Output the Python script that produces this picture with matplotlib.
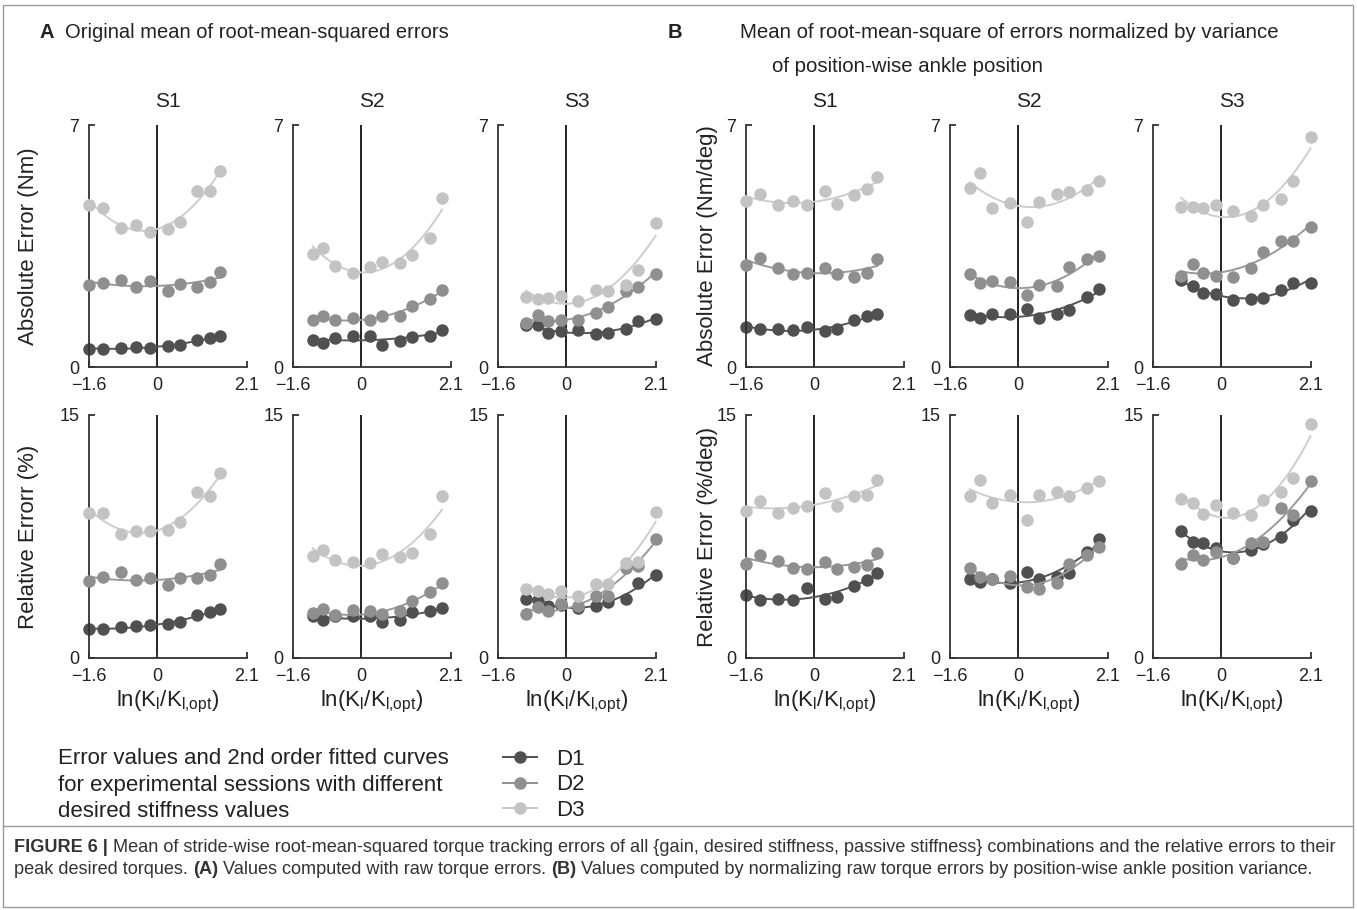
import numpy as np
import matplotlib.pyplot as plt
from matplotlib.lines import Line2D
from matplotlib.patches import Rectangle

# figure size in pixels (dpi 100)
W, H = 1357, 910

# --- data ---
# x positions of the ten sessions per subject, ln(K/K_opt)
x_s1 = [-1.60, -1.27, -0.84, -0.49, -0.16, 0.25, 0.54, 0.94, 1.23, 1.47]
x_s2 = [-1.14, -0.90, -0.61, -0.20, 0.20, 0.49, 0.90, 1.19, 1.61, 1.89]
x_s3 = [-0.94, -0.67, -0.44, -0.13, 0.27, 0.70, 0.97, 1.39, 1.68, 2.09]

# (A) absolute error (Nm), rows are D1, D2, D3
abs_a_s1 = [[0.53, 0.53, 0.55, 0.58, 0.55, 0.60, 0.63, 0.79, 0.84, 0.89],
            [2.36, 2.43, 2.51, 2.32, 2.48, 2.20, 2.41, 2.32, 2.45, 2.76],
            [4.70, 4.61, 4.03, 4.10, 3.90, 3.98, 4.20, 5.10, 5.09, 5.68]]
abs_a_s2 = [[0.79, 0.70, 0.84, 0.90, 0.89, 0.65, 0.75, 0.87, 0.90, 1.08],
            [1.37, 1.48, 1.35, 1.43, 1.37, 1.48, 1.48, 1.76, 1.98, 2.22],
            [3.28, 3.45, 2.93, 2.73, 2.88, 3.04, 3.02, 3.23, 3.72, 4.90]]
abs_a_s3 = [[1.21, 1.21, 0.98, 1.04, 1.06, 0.95, 0.98, 1.11, 1.33, 1.38],
            [1.28, 1.50, 1.33, 1.35, 1.35, 1.57, 1.74, 2.19, 2.32, 2.70],
            [2.03, 1.98, 2.00, 2.06, 1.91, 2.24, 2.19, 2.38, 2.80, 4.17]]

# (A) relative error (%)
rel_a_s1 = [[1.79, 1.79, 1.89, 1.99, 2.01, 2.12, 2.22, 2.63, 2.81, 3.02],
            [4.73, 4.97, 5.28, 4.79, 4.93, 4.52, 4.93, 4.93, 5.14, 5.79],
            [8.94, 8.94, 7.66, 7.83, 7.87, 7.91, 8.38, 10.23, 9.97, 11.40]]
rel_a_s2 = [[2.61, 2.32, 2.61, 2.61, 2.61, 2.20, 2.36, 2.81, 2.88, 3.08],
            [2.77, 3.02, 2.67, 2.94, 2.88, 2.73, 2.88, 3.53, 4.05, 4.66],
            [6.27, 6.68, 6.06, 5.92, 5.86, 6.43, 6.23, 6.47, 7.64, 9.97]]
rel_a_s3 = [[3.64, 3.60, 3.23, 3.29, 3.08, 3.23, 3.43, 3.66, 4.62, 5.14],
            [2.73, 3.14, 2.88, 3.39, 3.18, 3.80, 3.84, 5.55, 5.65, 7.34],
            [4.25, 4.11, 3.94, 4.11, 3.84, 4.58, 4.58, 5.86, 5.90, 9.04]]

# (B) absolute error normalized (Nm/deg)
abs_b_s1 = [[1.16, 1.09, 1.09, 1.06, 1.16, 1.04, 1.09, 1.35, 1.47, 1.54],
            [2.96, 3.14, 2.85, 2.68, 2.73, 2.87, 2.70, 2.61, 2.73, 3.11],
            [4.81, 5.00, 4.70, 4.81, 4.68, 5.09, 4.71, 4.97, 5.14, 5.50]]
abs_b_s2 = [[1.50, 1.43, 1.54, 1.52, 1.69, 1.43, 1.52, 1.64, 2.03, 2.27],
            [2.70, 2.44, 2.49, 2.46, 2.08, 2.36, 2.35, 2.88, 3.11, 3.21],
            [5.19, 5.62, 4.61, 4.73, 4.20, 4.78, 4.99, 5.05, 5.12, 5.39]]
abs_b_s3 = [[2.53, 2.34, 2.14, 2.10, 1.95, 1.98, 2.00, 2.22, 2.43, 2.43],
            [2.64, 2.97, 2.73, 2.64, 2.61, 2.85, 3.33, 3.64, 3.64, 4.05],
            [4.63, 4.63, 4.61, 4.70, 4.51, 4.36, 4.68, 4.87, 5.38, 6.66]]

# (B) relative error normalized (%/deg)
rel_b_s1 = [[3.86, 3.55, 3.66, 3.55, 4.31, 3.66, 3.76, 4.42, 4.83, 5.24],
            [5.81, 6.37, 5.96, 5.55, 5.49, 5.90, 5.49, 5.61, 5.71, 6.47],
            [9.10, 9.72, 8.94, 9.25, 9.41, 10.17, 9.39, 10.01, 10.07, 10.99]]
rel_b_s2 = [[4.89, 4.68, 4.89, 4.66, 5.30, 4.89, 5.03, 5.24, 6.57, 7.36],
            [5.55, 4.99, 4.89, 5.07, 4.38, 4.27, 4.62, 5.81, 6.33, 6.84],
            [9.97, 10.99, 9.55, 10.07, 8.53, 10.07, 10.27, 10.01, 10.48, 10.95]]
rel_b_s3 = [[7.81, 7.19, 7.09, 6.78, 6.16, 6.68, 7.05, 7.44, 8.53, 9.08],
            [5.81, 6.33, 6.06, 6.57, 6.16, 7.09, 7.19, 9.25, 8.83, 10.95],
            [9.80, 9.55, 8.90, 9.45, 8.98, 8.83, 9.76, 10.27, 11.10, 14.42]]

series_names = ["D1", "D2", "D3"]
subjects = ["S1", "S2", "S3"]

colors = ["#505050", "#8f8f8f", "#c3c3c3"]
line_colors = ["#555555", "#999999", "#cdcdcd"]
ink = "#222222"
MS = 9.0

plt.rcParams["font.family"] = ["Liberation Sans", "DejaVu Sans"]
plt.rcParams["mathtext.fontset"] = "custom"
plt.rcParams["mathtext.rm"] = "Liberation Sans"


def ax_rect(x0, x1, ytop, ybot):
    # pixel box -> figure fraction
    return [x0 / W, 1 - ybot / H, (x1 - x0) / W, (ybot - ytop) / H]


def draw_panel(ax, xs, rows, ymax):
    xs = np.asarray(xs)
    ax.plot([0, 0], [0, ymax], color="#111111", lw=1.3, zorder=1)
    for i, ys in enumerate(rows):
        ys = np.asarray(ys)
        coef = np.polyfit(xs, ys, 2)
        xf = np.linspace(xs.min(), xs.max(), 100)
        ax.plot(xf, np.polyval(coef, xf), color=line_colors[i], lw=1.4,
                zorder=2 + i, clip_on=False)
        ax.plot(xs, ys, "o", ms=MS, color=colors[i], mec="none",
                zorder=2 + i, clip_on=False)
    ax.set_xlim(-1.6, 2.1)
    ax.set_ylim(0, ymax)
    ax.set_xticks([-1.6, 0, 2.1])
    ax.set_xticklabels(["\u22121.6", "0", "2.1"])
    ax.set_yticks([0, ymax])
    ax.set_yticklabels(["0", str(ymax)])
    for side in ["top", "right"]:
        ax.spines[side].set_visible(False)
    for side in ["left", "bottom"]:
        ax.spines[side].set_color("#333333")
        ax.spines[side].set_linewidth(1.3)
    ax.tick_params(direction="in", length=4, width=1.3, colors="#333333",
                   labelsize=13, labelcolor=ink, pad=7)
    ax.patch.set_alpha(0)


fig = plt.figure(figsize=(W / 100, H / 100), dpi=100)

col_px = [89, 293, 498, 746, 950, 1153]
top_row = (125, 367)
bot_row = (415, 658)
ax_w = 158

top_data = [abs_a_s1, abs_a_s2, abs_a_s3, abs_b_s1, abs_b_s2, abs_b_s3]
bot_data = [rel_a_s1, rel_a_s2, rel_a_s3, rel_b_s1, rel_b_s2, rel_b_s3]
x_data = [x_s1, x_s2, x_s3, x_s1, x_s2, x_s3]

xlab = r"ln(K$_{\mathregular{l}}$/K$_{\mathregular{l{,}opt}}$)"
ylab_x = [-60, -39]  # label centre offset from left spine, px

for k in range(6):
    x0 = col_px[k]
    ax_t = fig.add_axes(ax_rect(x0, x0 + ax_w, *top_row))
    draw_panel(ax_t, x_data[k], top_data[k], 7)
    ax_b = fig.add_axes(ax_rect(x0, x0 + ax_w, *bot_row))
    draw_panel(ax_b, x_data[k], bot_data[k], 15)
    ax_b.set_xlabel(xlab, fontsize=16, color=ink, labelpad=3)
    ax_t.set_title(subjects[k % 3], fontsize=15, color=ink, pad=13)
    if k % 3 == 0:
        if k == 0:
            ax_t.set_ylabel("Absolute Error (Nm)", fontsize=16, color=ink)
            ax_b.set_ylabel("Relative Errorr (%)", fontsize=16, color=ink)
        else:
            ax_t.set_ylabel("Absolute Error (Nm/deg)", fontsize=16, color=ink)
            ax_b.set_ylabel("Relative Error (%/deg)", fontsize=16, color=ink)
        off = ylab_x[k // 3] / ax_w
        for a in (ax_t, ax_b):
            a.yaxis.set_label_coords(off, 0.5)
            a.yaxis.label.set_va("center")


def ftext(x, y, s, **kw):
    return fig.text(x / W, 1 - y / H, s, **kw)


# panel headings
ftext(40, 32, "A", fontsize=14.5, fontweight="bold", color=ink, va="center")
ftext(65, 32, "Original mean of root-mean-squared errors", fontsize=14.5,
      color=ink, va="center")
ftext(668, 32, "B", fontsize=14.5, fontweight="bold", color=ink, va="center")
ftext(740, 32, "Mean of root-mean-square of errors normalized by variance",
      fontsize=14.7, color=ink, va="center")
ftext(772, 67, "of position-wise ankle position", fontsize=14.7, color=ink,
      va="center")

# legend block
ftext(58, 785, "Error values and 2nd order fitted curves\n"
      "for experimental sessions with different\n"
      "desired stiffness values", fontsize=16, color=ink, va="center",
      linespacing=1.32)
handles = [Line2D([], [], color=colors[i], marker="o", ms=MS, mec="none",
                  lw=1.4) for i in range(3)]
fig.legend(handles, series_names, loc="upper left",
           bbox_to_anchor=(503 / W, 1 - 749 / H), frameon=False,
           fontsize=16, handlelength=1.55, handletextpad=0.85,
           labelspacing=0.2, borderpad=0, borderaxespad=0,
           labelcolor=ink)

# frame and caption
fig.patches.append(Rectangle((3 / W, 3 / H), 1350 / W, 902 / H,
                             transform=fig.transFigure, fill=False,
                             ec="#9a9a9a", lw=1.0))
fig.lines.append(Line2D([3 / W, 1353 / W], [1 - 826 / H, 1 - 826 / H],
                        transform=fig.transFigure, color="#9a9a9a", lw=1.0))

renderer = fig.canvas.get_renderer()


def draw_runs(x_px, y_px, runs, size):
    x = x_px
    for txt, weight in runs:
        t = ftext(x, y_px, txt, fontsize=size, fontweight=weight,
                  color="#333333", va="center")
        x += t.get_window_extent(renderer).width


cap_size = 13.1
draw_runs(14, 847, [("FIGURE 6 |", "bold"),
                    (" Mean of stride-wise root-mean-squared torque tracking errors of all "
                     "{gain, desired stiffness, passive stiffness} combinations and the "
                     "relative errors to their", "normal")], cap_size)
draw_runs(14, 870, [("peak desired torques. ", "normal"), ("(A)", "bold"),
                    (" Values computed with raw torque errors. ", "normal"),
                    ("(B)", "bold"),
                    (" Values computed by normalizing raw torque errors by "
                     "position-wise ankle position variance.", "normal")], cap_size)

fig.savefig("out.png", dpi=100)
